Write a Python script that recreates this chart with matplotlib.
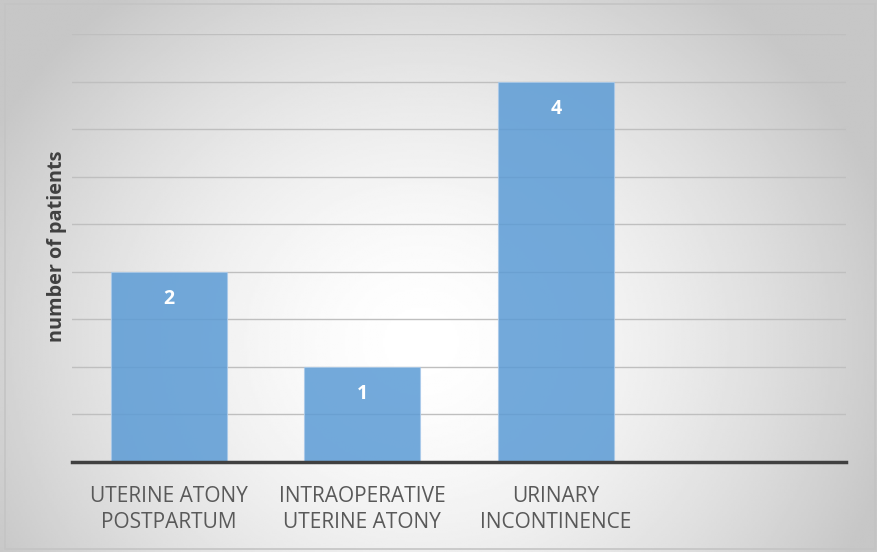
import numpy as np
import matplotlib.pyplot as plt
from matplotlib.patches import Rectangle

# === DATOS ===
categorias = ["UTERINE ATONY\nPOSTPARTUM", "INTRAOPERATIVE\nUTERINE ATONY", "URINARY\nINCONTINENCE", ""]
pacientes = [2, 1, 4, None]
ticks_y = np.arange(0, 4.51, 0.5)

plt.rcParams['font.family'] = ['Open Sans', 'DejaVu Sans']

fig = plt.figure(figsize=(8.77, 5.52), dpi=100)

# fondo con degradado radial
bg = fig.add_axes([0, 0, 1, 1], zorder=-10)
xx, yy = np.meshgrid(np.linspace(0, 1, 400), np.linspace(0, 1, 300))
cx, cy = 0.48, 0.38
d = np.sqrt(((xx - cx) * 1.3) ** 2 + ((yy - cy) * 0.9) ** 2)
val = 1.0 - 0.22 * np.clip(d / 0.72, 0, 1) ** 1.6
bg.imshow(val, cmap='gray', vmin=0, vmax=1, extent=[0, 1, 0, 1],
          origin='lower', aspect='auto', interpolation='bilinear')
bg.add_patch(Rectangle((0.006, 0.005), 0.992, 0.988, fill=False,
                       edgecolor='#c4c4c4', linewidth=1.2, transform=bg.transAxes))
bg.set_xlim(0, 1)
bg.set_ylim(0, 1)
bg.axis('off')

ax = fig.add_axes([72 / 877, 90 / 552, 774 / 877, 428 / 552])
ax.patch.set_alpha(0)

x = np.arange(len(categorias))
alturas = [v if v is not None else 0 for v in pacientes]
ax.bar(x, alturas, width=0.6, color='#5B9BD5', alpha=0.85,
       edgecolor='#a9c9ea', linewidth=0.8, zorder=3)

for xi, v in zip(x, pacientes):
    if v is not None:
        ax.text(xi, v - 0.29, str(v), ha='center', va='center', color='white',
                fontsize=14, fontweight='bold', zorder=4)

ax.set_xlim(-0.5, 3.5)
ax.set_ylim(0, 4.5)
ax.set_yticks(ticks_y)
ax.set_yticklabels([])
ax.tick_params(axis='y', length=0)
ax.grid(axis='y', color='#bfbfbf', linewidth=1.0, zorder=1)
ax.set_axisbelow(True)

ax.set_xticks(x)
ax.set_xticklabels(categorias, fontsize=15, color='#595959', linespacing=1.35)
ax.tick_params(axis='x', length=0, pad=17)

for lado in ['top', 'right', 'left']:
    ax.spines[lado].set_visible(False)
ax.spines['bottom'].set_color('#404040')
ax.spines['bottom'].set_linewidth(2.5)
ax.spines['bottom'].set_zorder(5)

ax.set_ylabel("number of patients", fontsize=14.3, fontweight='bold', color='#404040')
ax.yaxis.set_label_coords(-0.007, 0.505)

fig.savefig("out.png", dpi=100)
